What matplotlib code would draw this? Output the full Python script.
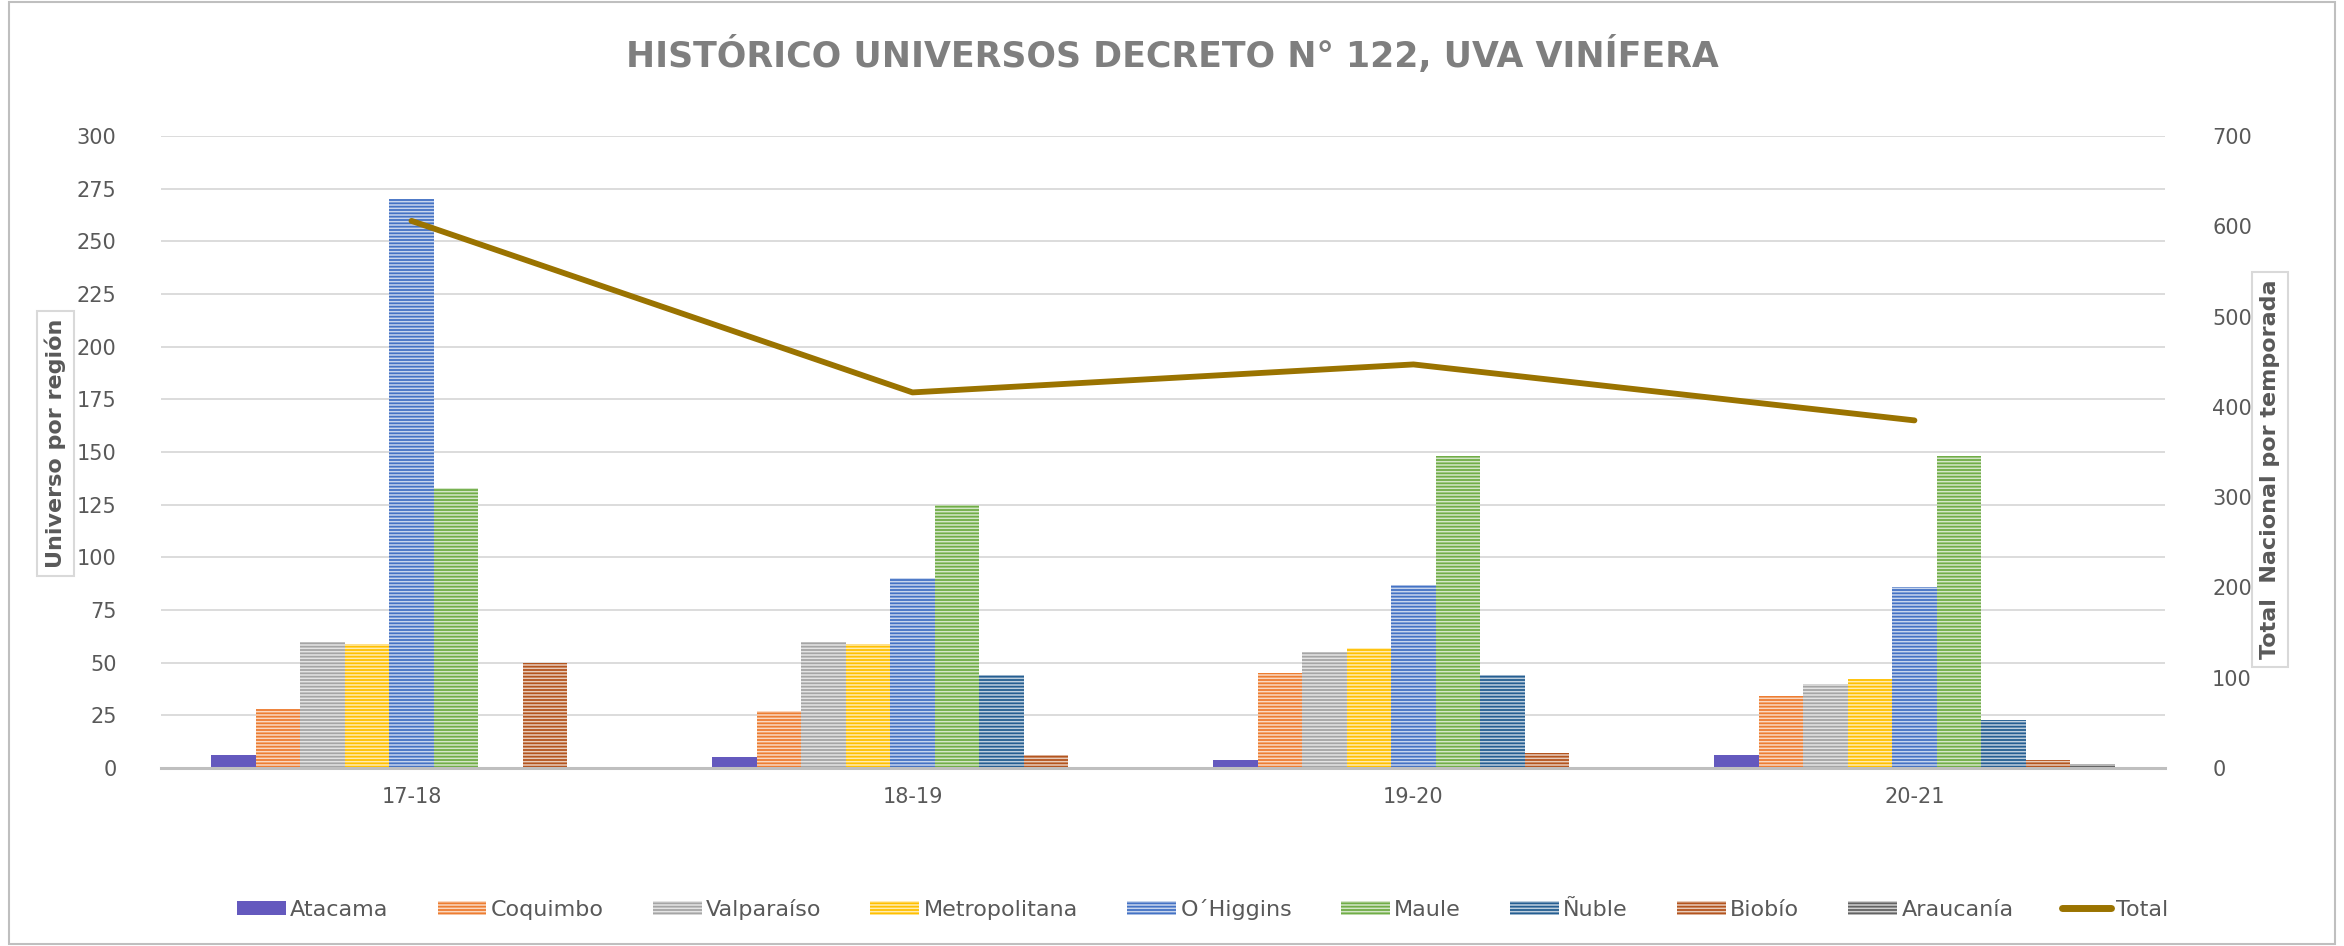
import matplotlib
matplotlib.use("Agg")
import matplotlib.pyplot as plt
import numpy as np
from matplotlib.colors import to_rgb
from matplotlib.lines import Line2D
from matplotlib.patches import Rectangle

# Data
seasons = ["17-18", "18-19", "19-20", "20-21"]
regions = ["Atacama", "Coquimbo", "Valparaíso", "Metropolitana", "O´Higgins",
           "Maule", "Ñuble", "Biobío", "Araucanía"]
atacama = [6, 5, 4, 6]
coquimbo = [28, 27, 45, 34]
valparaiso = [60, 60, 55, 40]
metropolitana = [59, 59, 57, 42]
ohiggins = [270, 90, 87, 86]
maule = [133, 125, 148, 148]
nuble = [0, 44, 44, 23]
biobio = [50, 6, 7, 4]
araucania = [0, 0, 0, 2]
total = [606, 416, 447, 385]

series = [atacama, coquimbo, valparaiso, metropolitana, ohiggins,
          maule, nuble, biobio, araucania]
colors = ["#6459BE", "#ED7D31", "#A5A5A5", "#FFC000", "#4472C4",
          "#70AD47", "#255E91", "#B3541E", "#636363"]

TEXT = "#595959"
GRID = "#d9d9d9"


def tint(c, f=0.7):
    r, g, b = to_rgb(c)
    return (r + (1 - r) * f, g + (1 - g) * f, b + (1 - b) * f)


plt.rcParams["hatch.linewidth"] = 1.1

fig = plt.figure(figsize=(23.44, 9.46), dpi=100)
ax = fig.add_axes([0.0687, 0.1882, 0.8549, 0.668])
ax2 = ax.twinx()

x = np.arange(len(seasons))
n = len(series)
w = 0.8 / n
handles = []
for i, (vals, col, name) in enumerate(zip(series, colors, regions)):
    pos = x - 0.4 + w / 2 + i * w
    hatch = None if i == 0 else "-----"
    b = ax.bar(pos, vals, width=w, color=col, edgecolor=tint(col),
               linewidth=0, hatch=hatch, label=name, zorder=2)
    handles.append(b)

ax2.plot(x, total, color="#9A7300", lw=4.2, solid_capstyle="round", zorder=3)
handles.append(Line2D([], [], color="#9A7300", lw=5, solid_capstyle="round"))

ax.set_xlim(-0.5, len(seasons) - 0.5)
ax.set_ylim(0, 300)
ax.set_yticks(np.arange(0, 301, 25))
ax2.set_ylim(0, 700)
ax2.set_yticks(np.arange(0, 701, 100))
ax.set_xticks(x)
ax.set_xticklabels(seasons)

ax.yaxis.grid(True, color=GRID, lw=1.3, zorder=0)
ax.set_axisbelow(True)
for a in (ax, ax2):
    for s in a.spines.values():
        s.set_visible(False)
    a.tick_params(length=0, labelsize=15, labelcolor=TEXT)
ax.spines["bottom"].set_visible(True)
ax.spines["bottom"].set_color("#bfbfbf")
ax.spines["bottom"].set_linewidth(2.2)
ax.tick_params(axis="x", pad=14)
ax.tick_params(axis="y", pad=32)
ax2.tick_params(axis="y", pad=34)
ax2.set_zorder(ax.get_zorder() + 1)
ax2.patch.set_visible(False)

fig.text(0.5, 0.942, "HISTÓRICO UNIVERSOS DECRETO N° 122, UVA VINÍFERA",
         ha="center", va="center", fontsize=25, fontweight="bold",
         color="#7f7f7f")

box = dict(boxstyle="square,pad=0.35", fc="white", ec=GRID, lw=1.5)
fig.text(0.0235, 0.531, "Universo por región", rotation=90, ha="center",
         va="center", fontsize=16, fontweight="bold", color=TEXT, bbox=box)
fig.text(0.9685, 0.504, "Total  Nacional por temporada", rotation=90,
         ha="center", va="center", fontsize=16, fontweight="bold",
         color=TEXT, bbox=box)

labels = regions + ["Total"]
leg = fig.legend(handles, labels, loc="center", bbox_to_anchor=(0.513, 0.039),
                 ncol=10, frameon=False, fontsize=16, handlelength=2.2,
                 handleheight=0.6, handletextpad=0.2, columnspacing=2.2)
for t in leg.get_texts():
    t.set_color(TEXT)

fig.patches.append(Rectangle((0.004, 0.002), 0.992, 0.996,
                             transform=fig.transFigure, fill=False,
                             ec="#bfbfbf", lw=1.5))

fig.savefig("out.png", dpi=100)
